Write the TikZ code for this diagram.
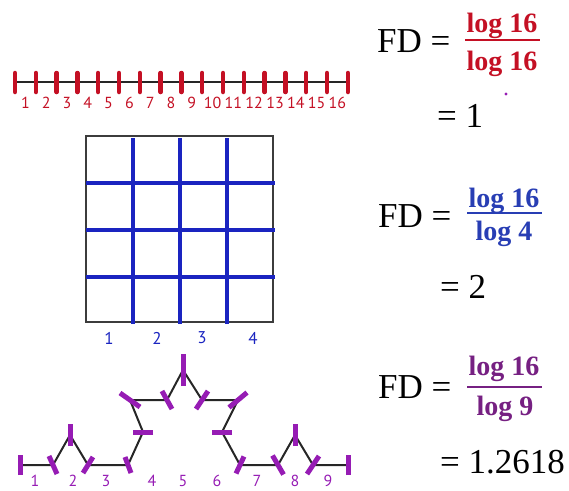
\documentclass[tikz,border=0pt]{standalone}
\usepackage{fontspec}
\setmainfont{Liberation Serif}
\newfontfamily\numfont{PT Sans}
\definecolor{logred}{RGB}{196,16,36}
\definecolor{logblue}{RGB}{40,62,180}
\definecolor{logpurple}{RGB}{118,32,130}
\definecolor{gridblue}{RGB}{26,36,192}
\definecolor{tickpurple}{RGB}{150,28,180}
\definecolor{framegray}{RGB}{60,60,60}

\begin{document}
\begin{tikzpicture}[x=1pt,y=-1pt,
  eqtext/.style={font=\fontsize{35}{40}\selectfont, inner sep=0pt},
  logtext/.style={font=\fontsize{28}{32}\selectfont\bfseries, inner sep=0pt},
  smalllabel/.style={font=\numfont\fontsize{16}{18}\selectfont, inner sep=0pt},
  redtick/.style={draw=logred, line width=4.5pt, line cap=round},
  bluebar/.style={draw=gridblue, line width=4.5pt},
  purpletick/.style={draw=tickpurple, line width=5pt},
  plainline/.style={draw=black!85, line width=2pt}]
\useasboundingbox (0,0) rectangle (569,490);

\coordinate (r0) at (15,82);
\coordinate (r16) at (348,82);
\draw[plainline] (r0) -- (r16);
\foreach \i [evaluate=\i as \x using 15+20.8*\i] in {0,...,16}
  \draw[redtick] (\x,73) -- (\x,92);
\foreach \i [evaluate=\i as \x using 15+20.8*(\i-0.5)] in {1,...,16}
  \node[smalllabel, text=logred] (r\i label) at (\x,103) {\i};

\draw[draw=framegray, line width=2pt] (86,136) rectangle (273,322);
\foreach \x in {133,180,227}
  \draw[bluebar] (\x,138) -- (\x,324);
\foreach \y in {183,230,277}
  \draw[bluebar] (86,\y) -- (275,\y);
\foreach \x/\t in {109/1,157/2,202/3,253/4}
  \node[smalllabel, text=gridblue, font=\numfont\fontsize{17}{19}\selectfont] (g\t) at (\x,338) {\t};

\foreach \n/\x/\y in {0/20/465, 1/53/465, 2/70/435, 3/88/465, 4/128/465,
  5/143/432, 6/130/400, 7/167/400, 8/183/370, 9/202/400, 10/238/400,
  11/222/432, 12/240/465, 13/278/465, 14/295/435, 15/313/465, 16/348/465}
  \coordinate (k\n) at (\x,\y);
\draw[plainline] (k0) \foreach \n in {1,...,16}{ -- (k\n)};
\foreach \n/\dx/\dy in {0/0/10, 1/4/9, 2/0/11, 3/5/-8, 4/3/8, 5/10/0,
  6/10/7, 7/5/9, 8/0/16, 9/6/-9, 10/9/-7.5, 11/10/0, 12/4/-8.5,
  13/5.5/9.5, 14/0/11, 15/6/-9, 16/0/10}
  \draw[purpletick] (k\n) +(\dx,\dy) -- +(-\dx,-\dy);
\foreach \x/\t in {35/1,73/2,106/3,152/4,183/5,217/6,257/7,295/8,328/9}
  \node[smalllabel, text=tickpurple] (k\t label) at (\x,481) {\t};

\node[eqtext, anchor=base west] (fdA) at (377,52) {FD =};
\node[logtext, text=logred, anchor=base] (numA) at (502,32) {log 16};
\node[logtext, text=logred, anchor=base] (denA) at (502,70) {log 16};
\draw[draw=logred, line width=2pt] (465,40) -- (540,40);
\node[eqtext, anchor=base west] (resA) at (437,127) {= 1};
\node[circle, fill=tickpurple, inner sep=1.2pt] (dot) at (506,94) {};

\node[eqtext, anchor=base west] (fdB) at (378,227) {FD =};
\node[logtext, text=logblue, anchor=base] (numB) at (504,207) {log 16};
\node[logtext, text=logblue, anchor=base] (denB) at (504,240) {log 4};
\draw[draw=logblue, line width=2pt] (467,213) -- (542,213);
\node[eqtext, anchor=base west] (resB) at (440,298) {= 2};

\node[eqtext, anchor=base west] (fdC) at (378,398) {FD =};
\node[logtext, text=logpurple, anchor=base] (numC) at (504,375) {log 16};
\node[logtext, text=logpurple, anchor=base] (denC) at (505,415) {log 9};
\draw[draw=logpurple, line width=2pt] (467,387) -- (542,387);
\node[eqtext, anchor=base west] (resC) at (440,473) {= 1.2618};
\end{tikzpicture}
\end{document}
